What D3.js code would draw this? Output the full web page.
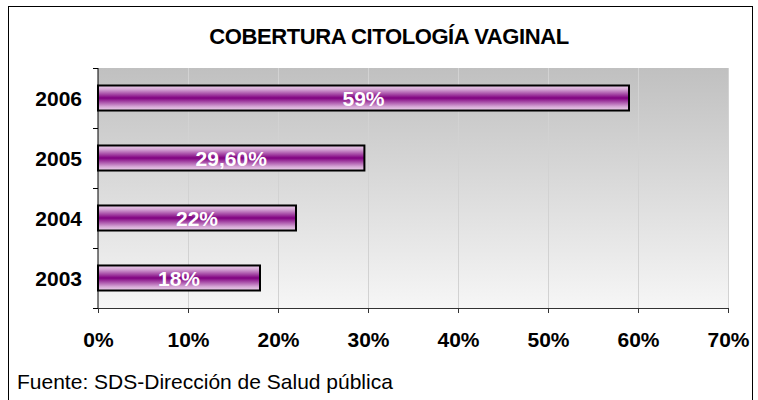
<!DOCTYPE html>
<html>
<head>
<meta charset="utf-8">
<script src="https://cdn.jsdelivr.net/npm/d3@7"></script>
<style>
  html, body { margin: 0; padding: 0; background: #fff; }
  svg { display: block; font-family: "Liberation Sans", Arial, sans-serif; }
</style>
</head>
<body>
<svg id="chart" width="758" height="400"></svg>
<script>
const years = ["2006", "2005", "2004", "2003"];
const values = [59, 29.6, 22, 18];
const valueLabels = ["59%", "29,60%", "22%", "18%"];
const xTicks = [0, 10, 20, 30, 40, 50, 60, 70];
const titleText = "COBERTURA CITOLOGÍA VAGINAL";
const sourceText = "Fuente: SDS-Dirección de Salud pública";

const svg = d3.select("#chart");
const margin = { left: 98, right: 30, top: 68, bottom: 92 };
const W = 758, H = 400;

// outer frame
svg.append("rect")
  .attr("x", 8.5).attr("y", 6.5)
  .attr("width", 744).attr("height", 420)
  .attr("fill", "#fff").attr("stroke", "#000").attr("stroke-width", 1);

const defs = svg.append("defs");
const bg = defs.append("linearGradient").attr("id", "bgGrad")
  .attr("x1", 0).attr("y1", 0).attr("x2", 0).attr("y2", 1);
bg.append("stop").attr("offset", "0%").attr("stop-color", "#c0c0c0");
bg.append("stop").attr("offset", "100%").attr("stop-color", "#f6f6f6");

const barGrad = defs.append("linearGradient").attr("id", "barGrad")
  .attr("x1", 0).attr("y1", 0).attr("x2", 0).attr("y2", 1);
[["0%", "#ecd2ec"], ["15%", "#d6a8d6"], ["50%", "#800080"], ["85%", "#d6a8d6"], ["100%", "#ecd2ec"]]
  .forEach(([o, c]) => barGrad.append("stop").attr("offset", o).attr("stop-color", c));

const x = d3.scaleLinear().domain([0, 70]).range([margin.left, W - margin.right]);
const y = d3.scaleBand().domain(years).range([margin.top, H - margin.bottom])
  .paddingInner(0.583).paddingOuter(0.2917);

// plot background
svg.append("rect")
  .attr("x", x(0)).attr("y", margin.top)
  .attr("width", x(70) - x(0)).attr("height", (H - margin.bottom) - margin.top)
  .attr("fill", "url(#bgGrad)");

// gridlines
svg.append("g").selectAll("line").data(xTicks.slice(1)).join("line")
  .attr("x1", d => x(d) + 0.5).attr("x2", d => x(d) + 0.5)
  .attr("y1", margin.top).attr("y2", H - margin.bottom)
  .attr("stroke", "#d2d2d2").attr("stroke-width", 1);

// bars
svg.append("g").selectAll("rect").data(years).join("rect")
  .attr("x", x(0))
  .attr("y", d => y(d))
  .attr("width", (d, i) => x(values[i]) - x(0))
  .attr("height", y.bandwidth())
  .attr("fill", "url(#barGrad)")
  .attr("stroke", "#000").attr("stroke-width", 2);

// value labels
svg.append("g").selectAll("text").data(years).join("text")
  .attr("x", (d, i) => (x(0) + x(values[i])) / 2)
  .attr("y", d => y(d) + y.bandwidth() / 2)
  .attr("dy", "0.36em")
  .attr("text-anchor", "middle")
  .attr("fill", "#fff")
  .attr("font-size", 21).attr("font-weight", "bold")
  .text((d, i) => valueLabels[i]);

// x axis
const xAxis = svg.append("g")
  .attr("transform", `translate(0,${H - margin.bottom})`)
  .call(d3.axisBottom(x).tickValues(xTicks).tickSize(5).tickSizeOuter(0).tickFormat(d => d + "%"));
xAxis.select(".domain").attr("stroke", "#333");
xAxis.selectAll(".tick line").attr("stroke", "#333");
xAxis.selectAll(".tick text")
  .attr("y", 38.5).attr("dy", 0)
  .attr("fill", "#000").attr("font-size", 21).attr("font-weight", "bold")
  .attr("font-family", "Liberation Sans, Arial, sans-serif");

// y axis (ticks at category boundaries)
const yAxis = svg.append("g").attr("transform", `translate(${x(0)},0)`);
yAxis.append("line")
  .attr("x1", 0).attr("x2", 0)
  .attr("y1", margin.top).attr("y2", H - margin.bottom)
  .attr("stroke", "#000");
const bounds = years.map(d => y(d) - y.step() * y.paddingInner() / 2).concat([H - margin.bottom]);
yAxis.selectAll("line.tk").data(bounds).join("line").attr("class", "tk")
  .attr("x1", -5).attr("x2", 0)
  .attr("y1", d => Math.round(d) + 0.5).attr("y2", d => Math.round(d) + 0.5)
  .attr("stroke", "#000");
yAxis.selectAll("text").data(years).join("text")
  .attr("x", -16)
  .attr("y", d => y(d) + y.bandwidth() / 2)
  .attr("dy", "0.36em")
  .attr("text-anchor", "end")
  .attr("font-size", 21).attr("font-weight", "bold")
  .text(d => d);

// title
svg.append("text")
  .attr("x", 389).attr("y", 44)
  .attr("text-anchor", "middle")
  .attr("font-size", 22).attr("font-weight", "bold")
  .attr("letter-spacing", -0.4)
  .text(titleText);

// source
svg.append("text")
  .attr("x", 17).attr("y", 389)
  .attr("font-size", 21)
  .text(sourceText);
</script>
</body>
</html>
